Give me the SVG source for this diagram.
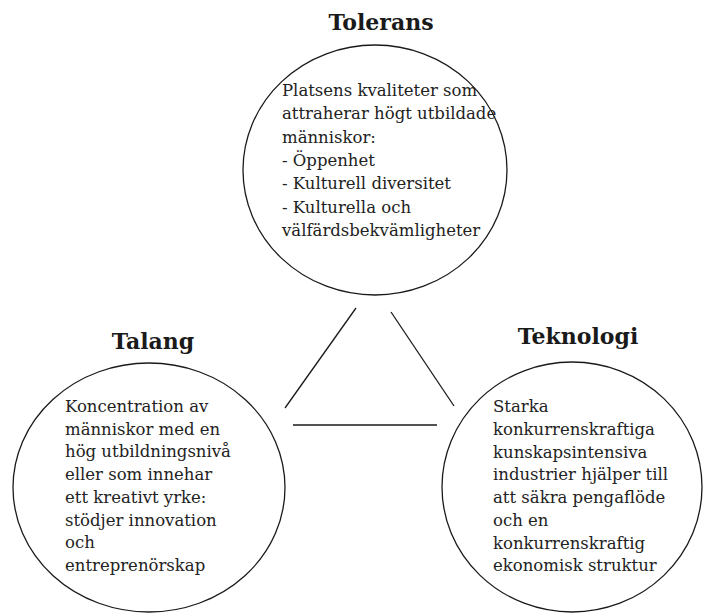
<svg xmlns="http://www.w3.org/2000/svg" width="703" height="614" viewBox="0 0 703 614">
<style>
.bg{fill:#ffffff}
.circle{fill:none;stroke:#1a1a1a;stroke-width:1.3}
.title{font-family:"DejaVu Serif","Liberation Serif",serif;font-weight:bold;font-size:22px;fill:#1a1a1a;text-anchor:middle}
.body{font-family:"DejaVu Serif","Liberation Serif",serif;font-size:16.5px;fill:#222222}
.conn{stroke:#1a1a1a;stroke-width:1.3;fill:none}
</style>
<rect class="bg" x="0" y="0" width="703" height="614"/>
<g id="connectors">
<line class="conn" x1="356" y1="308" x2="285" y2="408"/>
<line class="conn" x1="391" y1="312" x2="454" y2="406"/>
<line class="conn" x1="293" y1="425" x2="437" y2="425"/>
</g>
<g id="tolerans">
<text class="title" x="381" y="30">Tolerans</text>
<ellipse class="circle" cx="375" cy="170" rx="132" ry="125"/>
<text class="body" x="282">
<tspan x="282" y="96">Platsens kvaliteter som</tspan>
<tspan x="282" y="119">attraherar högt utbildade</tspan>
<tspan x="282" y="142.5">människor:</tspan>
<tspan x="282" y="166">- Öppenhet</tspan>
<tspan x="282" y="189.3">- Kulturell diversitet</tspan>
<tspan x="282" y="212.7">- Kulturella och</tspan>
<tspan x="282" y="236">välfärdsbekvämligheter</tspan>
</text>
</g>
<g id="talang">
<text class="title" x="153" y="349">Talang</text>
<ellipse class="circle" cx="149" cy="487.5" rx="136" ry="124.5"/>
<text class="body">
<tspan x="65" y="412">Koncentration av</tspan>
<tspan x="65" y="434.7">människor med en</tspan>
<tspan x="65" y="457.4">hög utbildningsnivå</tspan>
<tspan x="65" y="480">eller som innehar</tspan>
<tspan x="65" y="502.8">ett kreativt yrke:</tspan>
<tspan x="65" y="525.5">stödjer innovation</tspan>
<tspan x="65" y="548">och</tspan>
<tspan x="65" y="571">entreprenörskap</tspan>
</text>
</g>
<g id="teknologi">
<text class="title" x="578" y="344">Teknologi</text>
<ellipse class="circle" cx="572" cy="487" rx="130" ry="125"/>
<text class="body">
<tspan x="493" y="412">Starka</tspan>
<tspan x="493" y="435">konkurrenskraftiga</tspan>
<tspan x="493" y="457.5">kunskapsintensiva</tspan>
<tspan x="493" y="480">industrier hjälper till</tspan>
<tspan x="493" y="503">att säkra pengaflöde</tspan>
<tspan x="493" y="526">och en</tspan>
<tspan x="493" y="548.5">konkurrenskraftig</tspan>
<tspan x="493" y="571">ekonomisk struktur</tspan>
</text>
</g>
</svg>
